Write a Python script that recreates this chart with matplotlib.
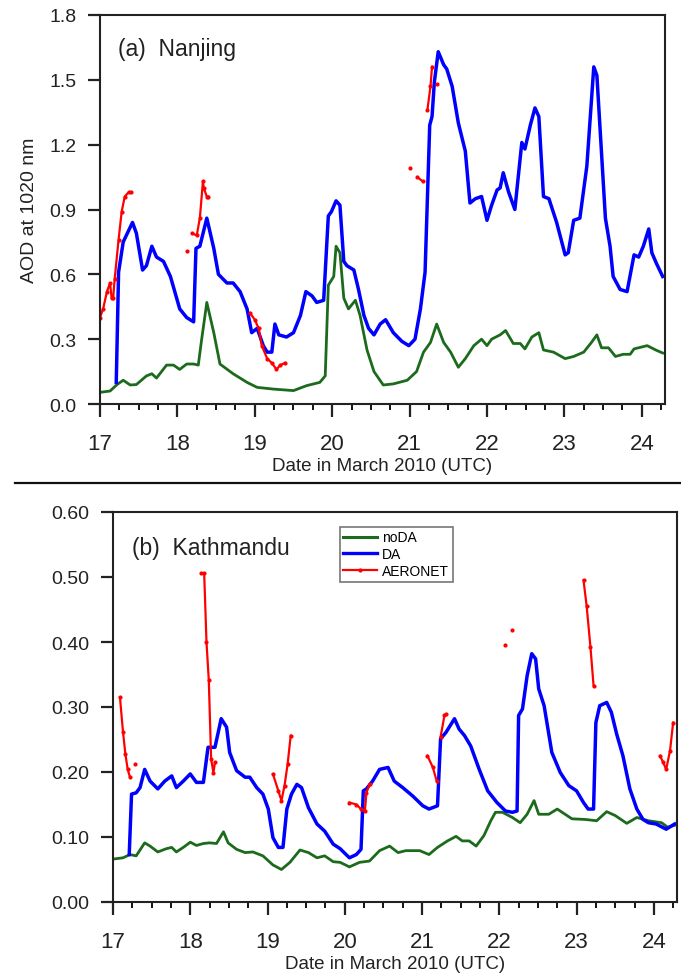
"""Two-panel AOD time series (Nanjing / Kathmandu): noDA vs DA vs AERONET."""

import matplotlib
matplotlib.use("Agg")
import matplotlib.pyplot as plt
from matplotlib.lines import Line2D
from matplotlib.ticker import MultipleLocator, FormatStrFormatter

plt.rcParams["font.family"] = ["Liberation Sans", "DejaVu Sans"]

GREEN = "#1c6b1c"
BLUE = "#0000ff"
RED = "#ff0000"

# ---- (a) Nanjing, AOD at 1020 nm -----------------------------------------
nj_da_x = [17.21, 17.24, 17.30, 17.42, 17.47, 17.55, 17.60, 17.67, 17.73, 17.82, 17.91,
           18.03, 18.12, 18.21, 18.24, 18.29, 18.38, 18.47, 18.53, 18.64, 18.72, 18.81,
           18.90, 18.96, 19.03, 19.11, 19.16, 19.22, 19.26, 19.31, 19.41, 19.50, 19.59,
           19.66, 19.74, 19.80, 19.89, 19.95, 19.99, 20.05, 20.10, 20.15, 20.19, 20.28,
           20.34, 20.41, 20.47, 20.54, 20.62, 20.69, 20.79, 20.90, 20.99, 21.07, 21.14,
           21.20, 21.23, 21.26, 21.29, 21.32, 21.37, 21.44, 21.48, 21.55, 21.63, 21.72,
           21.78, 21.85, 21.93, 22.00, 22.06, 22.13, 22.17, 22.21, 22.28, 22.36, 22.45,
           22.49, 22.56, 22.62, 22.67, 22.73, 22.80, 22.90, 23.01, 23.05, 23.12, 23.20,
           23.29, 23.38, 23.42, 23.53, 23.59, 23.63, 23.72, 23.81, 23.90, 23.96, 24.02,
           24.09, 24.13, 24.19, 24.27]
nj_da_y = [0.10, 0.61, 0.75, 0.84, 0.79, 0.62, 0.64, 0.73, 0.68, 0.66, 0.59,
           0.44, 0.40, 0.38, 0.72, 0.73, 0.86, 0.72, 0.60, 0.56, 0.56, 0.52,
           0.44, 0.33, 0.35, 0.27, 0.24, 0.24, 0.37, 0.32, 0.31, 0.33, 0.41,
           0.52, 0.50, 0.47, 0.48, 0.87, 0.89, 0.94, 0.92, 0.66, 0.64, 0.62,
           0.53, 0.41, 0.35, 0.32, 0.37, 0.39, 0.33, 0.29, 0.27, 0.30, 0.44,
           0.61, 0.95, 1.29, 1.33, 1.49, 1.63, 1.57, 1.55, 1.47, 1.30, 1.17,
           0.93, 0.95, 0.96, 0.85, 0.92, 0.99, 1.00, 1.07, 0.98, 0.90, 1.21,
           1.18, 1.29, 1.37, 1.33, 0.96, 0.95, 0.84, 0.69, 0.70, 0.85, 0.86,
           1.10, 1.56, 1.52, 0.86, 0.73, 0.59, 0.53, 0.52, 0.69, 0.68, 0.73,
           0.81, 0.70, 0.65, 0.59]

nj_noda_x = [17.00, 17.13, 17.22, 17.30, 17.39, 17.47, 17.60, 17.67, 17.73, 17.86, 17.95,
             18.03, 18.12, 18.21, 18.27, 18.31, 18.38, 18.47, 18.55, 18.72, 18.90, 19.03,
             19.24, 19.50, 19.67, 19.84, 19.91, 19.95, 20.02, 20.05, 20.10, 20.15, 20.21,
             20.30, 20.36, 20.45, 20.54, 20.66, 20.79, 20.97, 21.09, 21.18, 21.27, 21.35,
             21.44, 21.53, 21.63, 21.72, 21.83, 21.93, 22.00, 22.06, 22.17, 22.24, 22.34,
             22.43, 22.49, 22.58, 22.67, 22.73, 22.86, 23.01, 23.12, 23.25, 23.35, 23.42,
             23.48, 23.57, 23.66, 23.76, 23.85, 23.90, 24.07, 24.18, 24.27]
nj_noda_y = [0.054, 0.06, 0.09, 0.11, 0.088, 0.09, 0.13, 0.14, 0.12, 0.18, 0.18,
             0.16, 0.185, 0.185, 0.18, 0.29, 0.47, 0.33, 0.185, 0.14, 0.10, 0.077,
             0.069, 0.062, 0.085, 0.10, 0.13, 0.55, 0.59, 0.73, 0.70, 0.49, 0.44,
             0.48, 0.41, 0.25, 0.15, 0.088, 0.093, 0.11, 0.15, 0.24, 0.285, 0.37,
             0.285, 0.24, 0.17, 0.21, 0.27, 0.30, 0.27, 0.30, 0.32, 0.34, 0.28,
             0.28, 0.255, 0.31, 0.33, 0.25, 0.24, 0.21, 0.22, 0.24, 0.285, 0.32,
             0.26, 0.26, 0.22, 0.23, 0.23, 0.255, 0.27, 0.25, 0.236]

# AERONET observations come in separate bursts (None breaks the line)
nj_obs_x = [17.00, 17.04, 17.09, 17.13, 17.15, 17.17, 17.19, 17.24, 17.28, 17.32, 17.37, 17.40, None,
            18.12, None,
            18.19, 18.25, 18.29, 18.33, 18.34, 18.38, 18.40, None,
            18.94, 19.00, 19.05, 19.09, 19.16, 19.22, 19.28, 19.33, 19.39, None,
            21.00, None,
            21.10, 21.17, None,
            21.23, 21.27, 21.29, None,
            21.35]
nj_obs_y = [0.40, 0.44, 0.52, 0.56, 0.49, 0.49, 0.58, 0.76, 0.89, 0.96, 0.98, 0.98, None,
            0.71, None,
            0.79, 0.78, 0.86, 1.03, 1.00, 0.96, 0.96, None,
            0.42, 0.39, 0.35, 0.27, 0.21, 0.19, 0.16, 0.18, 0.19, None,
            1.09, None,
            1.05, 1.03, None,
            1.36, 1.47, 1.56, None,
            1.48]

# ---- (b) Kathmandu ---------------------------------------------------------
kt_da_x = [17.21, 17.24, 17.30, 17.35, 17.41, 17.48, 17.58, 17.67, 17.76, 17.82, 17.91,
           18.00, 18.08, 18.17, 18.23, 18.32, 18.40, 18.47, 18.51, 18.60, 18.71, 18.77,
           18.86, 18.94, 19.01, 19.07, 19.14, 19.20, 19.25, 19.31, 19.38, 19.44, 19.53,
           19.64, 19.74, 19.85, 19.94, 20.06, 20.15, 20.21, 20.24, 20.28, 20.36, 20.45,
           20.56, 20.64, 20.75, 20.88, 21.01, 21.09, 21.20, 21.24, 21.31, 21.42, 21.48,
           21.55, 21.63, 21.74, 21.85, 21.97, 22.08, 22.17, 22.23, 22.25, 22.30, 22.36,
           22.42, 22.47, 22.51, 22.58, 22.68, 22.79, 22.90, 23.00, 23.09, 23.15, 23.22,
           23.25, 23.30, 23.39, 23.45, 23.52, 23.60, 23.69, 23.78, 23.86, 23.93, 24.03,
           24.16, 24.27]
kt_da_y = [0.073, 0.166, 0.168, 0.176, 0.204, 0.186, 0.174, 0.186, 0.194, 0.176, 0.186,
           0.197, 0.184, 0.184, 0.238, 0.238, 0.282, 0.269, 0.230, 0.202, 0.192, 0.192,
           0.176, 0.166, 0.143, 0.099, 0.084, 0.084, 0.143, 0.166, 0.181, 0.176, 0.145,
           0.120, 0.109, 0.089, 0.082, 0.068, 0.073, 0.081, 0.171, 0.174, 0.186, 0.204,
           0.207, 0.186, 0.176, 0.163, 0.148, 0.143, 0.148, 0.251, 0.261, 0.282, 0.266,
           0.256, 0.240, 0.204, 0.171, 0.153, 0.140, 0.138, 0.140, 0.287, 0.297, 0.348,
           0.382, 0.374, 0.328, 0.302, 0.230, 0.199, 0.179, 0.171, 0.153, 0.143, 0.143,
           0.276, 0.302, 0.307, 0.292, 0.258, 0.225, 0.174, 0.143, 0.127, 0.122, 0.120,
           0.112, 0.120]

kt_noda_x = [17.00, 17.13, 17.22, 17.30, 17.41, 17.48, 17.58, 17.69, 17.76, 17.82, 17.91,
             18.00, 18.08, 18.17, 18.25, 18.34, 18.43, 18.49, 18.60, 18.71, 18.81, 18.94,
             19.07, 19.18, 19.29, 19.42, 19.53, 19.64, 19.74, 19.85, 19.94, 20.06, 20.19,
             20.32, 20.45, 20.58, 20.69, 20.79, 20.97, 21.09, 21.20, 21.33, 21.44, 21.52,
             21.61, 21.70, 21.80, 21.89, 21.95, 22.04, 22.17, 22.27, 22.36, 22.45, 22.51,
             22.64, 22.75, 22.94, 23.11, 23.26, 23.39, 23.50, 23.65, 23.78, 23.93, 24.10,
             24.18, 24.27]
kt_noda_y = [0.066, 0.068, 0.073, 0.071, 0.091, 0.086, 0.077, 0.082, 0.084, 0.077, 0.084,
             0.092, 0.087, 0.090, 0.091, 0.090, 0.108, 0.091, 0.081, 0.076, 0.077, 0.071,
             0.057, 0.050, 0.061, 0.080, 0.076, 0.068, 0.071, 0.062, 0.061, 0.054, 0.061,
             0.063, 0.079, 0.086, 0.076, 0.079, 0.079, 0.073, 0.084, 0.094, 0.101, 0.094,
             0.094, 0.086, 0.102, 0.125, 0.138, 0.138, 0.130, 0.122, 0.135, 0.156, 0.135,
             0.135, 0.143, 0.128, 0.127, 0.125, 0.139, 0.133, 0.121, 0.130, 0.125, 0.122,
             0.115, 0.118]

kt_obs_x = [17.09, 17.13, 17.16, 17.19, 17.22, None,
            17.29, None,
            18.14, 18.18, 18.21, 18.24, 18.27, 18.30, 18.32, None,
            19.07, 19.14, 19.18, 19.22, 19.26, 19.30, None,
            20.06, 20.15, 20.21, 20.26, 20.28, 20.32, None,
            21.07, 21.14, 21.19, None,
            21.24, 21.29, 21.31, None,
            22.08, None,
            22.17, None,
            23.09, 23.13, 23.18, 23.22, None,
            24.08, 24.12, 24.16, 24.21, 24.25]
kt_obs_y = [0.315, 0.261, 0.228, 0.204, 0.192, None,
            0.212, None,
            0.506, 0.506, 0.400, 0.341, 0.220, 0.199, 0.215, None,
            0.197, 0.171, 0.156, 0.179, 0.212, 0.256, None,
            0.153, 0.150, 0.143, 0.140, 0.168, 0.181, None,
            0.225, 0.207, 0.186, None,
            0.254, 0.287, 0.289, None,
            0.395, None,
            0.419, None,
            0.495, 0.456, 0.392, 0.333, None,
            0.225, 0.215, 0.204, 0.233, 0.276]


def style_axes(ax, ymax, ystep, yfmt):
    ax.set_xlim(17, 24.3)
    ax.set_ylim(0, ymax)
    ax.xaxis.set_major_locator(MultipleLocator(1))
    ax.xaxis.set_minor_locator(MultipleLocator(0.25))
    ax.yaxis.set_major_locator(MultipleLocator(ystep))
    ax.yaxis.set_major_formatter(FormatStrFormatter(yfmt))
    ax.tick_params(axis="x", which="major", direction="out", length=9, width=1.6,
                   labelsize=16, pad=12, colors="#222222")
    ax.tick_params(axis="x", which="minor", direction="out", length=4.5, width=1.3)
    ax.tick_params(axis="y", which="major", direction="out", length=9, width=1.6,
                   labelsize=14, pad=8, colors="#222222")
    for s in ax.spines.values():
        s.set_linewidth(1.5)
        s.set_color("#222222")
    ax.set_xlabel("Date in March 2010 (UTC)", fontsize=13.5, labelpad=2, color="#222222")


fig = plt.figure(figsize=(6.81, 9.78), dpi=100)

# panel (a)
ax1 = fig.add_axes([100 / 681, 1 - 405 / 978, 565 / 681, 389 / 978])
ax1.plot(nj_noda_x, nj_noda_y, color=GREEN, lw=2.0)
ax1.plot(nj_da_x, nj_da_y, color=BLUE, lw=2.5)
ax1.plot(nj_obs_x, nj_obs_y, color=RED, lw=1.6, marker="o", ms=2.0)
style_axes(ax1, 1.8, 0.3, "%.1f")
ax1.set_ylabel("AOD at 1020 nm", fontsize=14, labelpad=8, color="#222222")
ax1.text(0.032, 0.915, "(a)  Nanjing", transform=ax1.transAxes, fontsize=16.5,
         va="center", ha="left", color="#222222")

# separator line between the panels
fig.add_artist(Line2D([15 / 681, 1.0], [1 - 484 / 978, 1 - 484 / 978],
                      color="#111111", lw=1.6, transform=fig.transFigure))

# panel (b)
ax2 = fig.add_axes([113 / 681, 1 - 903 / 978, 564 / 681, 390 / 978])
ax2.plot(kt_noda_x, kt_noda_y, color=GREEN, lw=2.0)
ax2.plot(kt_da_x, kt_da_y, color=BLUE, lw=2.5)
ax2.plot(kt_obs_x, kt_obs_y, color=RED, lw=1.6, marker="o", ms=2.0)
style_axes(ax2, 0.6, 0.1, "%.2f")
ax2.text(0.034, 0.91, "(b)  Kathmandu", transform=ax2.transAxes, fontsize=16.5,
         va="center", ha="left", color="#222222")

handles = [Line2D([], [], color=GREEN, lw=2.2),
           Line2D([], [], color=BLUE, lw=2.4),
           Line2D([], [], color=RED, lw=1.6, marker="o", ms=2.0)]
leg = ax2.legend(handles, ["noDA", "DA", "AERONET"], loc="upper left",
                 bbox_to_anchor=(340 / 681, 1 - 528 / 978), bbox_transform=fig.transFigure,
                 fontsize=10, frameon=True, fancybox=False, borderpad=0.25,
                 handlelength=2.4, handletextpad=0.4, labelspacing=0.2, borderaxespad=0)
leg.get_frame().set_edgecolor("#555555")
leg.get_frame().set_linewidth(1.2)

fig.savefig("out.png", dpi=100)
